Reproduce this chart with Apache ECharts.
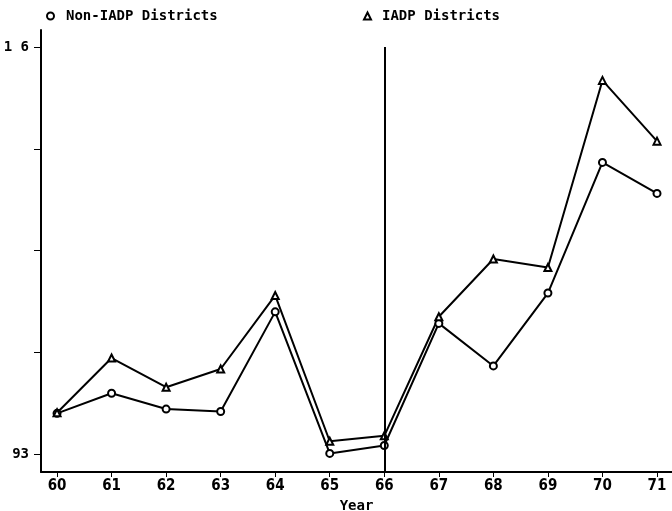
<!DOCTYPE html>
<html>
<head>
<meta charset="utf-8">
<script src="https://cdn.jsdelivr.net/npm/echarts@6/dist/echarts.min.js"></script>
<style>
  html, body { margin: 0; padding: 0; background: #fff; }
  #chart { width: 672px; height: 511px; }
</style>
</head>
<body>
<div id="chart"></div>
<script>
// data
let years = [60, 61, 62, 63, 64, 65, 66, 67, 68, 69, 70, 71];
let nonIadp = [0.997, 1.030, 1.004, 1.000, 1.164, 0.931, 0.944, 1.145, 1.075, 1.195, 1.410, 1.359];
let iadp = [0.998, 1.088, 1.040, 1.070, 1.191, 0.951, 0.960, 1.156, 1.251, 1.237, 1.545, 1.445];
let yTicks = [0.93, 1.0975, 1.265, 1.4325, 1.6];
let yLabelValues = [0.93, 1.6];
let yLabelTexts = ['93', '1 6'];
let breakYear = 66;

let font = 'DejaVu Sans Mono';
let narrow = '"Liberation Sans Narrow", "DejaVu Sans Condensed", sans-serif';
let yMin = 0.9004, yMax = 1.628;

function pairs(vals) {
    return years.map(function (y, i) { return [y, vals[i]]; });
}

let chart = echarts.init(document.getElementById('chart'));
let option = {
    animation: false,
    backgroundColor: '#fff',
    legend: [{
        left: 41, top: 4,
        data: ['Non-IADP Districts'],
        icon: 'emptyCircle',
        itemWidth: 7, itemHeight: 7,
        textStyle: { fontFamily: font, fontWeight: 'bold', fontSize: 14, color: '#000', padding: [0, 0, 0, 7] }
    }, {
        left: 358, top: 4,
        data: ['IADP Districts'],
        icon: 'emptyTriangle',
        itemWidth: 7, itemHeight: 7,
        textStyle: { fontFamily: font, fontWeight: 'bold', fontSize: 14, color: '#000', padding: [0, 0, 0, 6] }
    }],
    grid: { left: 41, right: 0, top: 30, bottom: 39, outerBoundsMode: 'none' },
    xAxis: {
        type: 'value',
        min: 59.706, max: 71.275,
        name: 'Year',
        nameLocation: 'middle',
        nameGap: 24,
        nameTextStyle: { fontFamily: font, fontWeight: 'bold', fontSize: 14, color: '#000' },
        axisLine: { lineStyle: { color: '#000', width: 2 } },
        axisTick: { length: 5, customValues: years, lineStyle: { color: '#000' } },
        axisLabel: {
            customValues: years, margin: 7,
            fontFamily: narrow, fontWeight: 'bold', fontSize: 15, color: '#000'
        },
        splitLine: { show: false }
    },
    yAxis: {
        type: 'value',
        min: yMin, max: yMax,
        axisLine: { show: true, lineStyle: { color: '#000', width: 2 } },
        axisTick: { show: true, length: 7, customValues: yTicks, lineStyle: { color: '#000' } },
        axisLabel: {
            customValues: yLabelValues, margin: 12,
            fontFamily: font, fontWeight: 'bold', fontSize: 14, color: '#000',
            formatter: function (v) {
                for (let i = 0; i < yLabelValues.length; i++) {
                    if (Math.abs(v - yLabelValues[i]) < 1e-6) return yLabelTexts[i];
                }
                return '';
            }
        },
        splitLine: { show: false }
    },
    series: [{
        name: 'Non-IADP Districts',
        type: 'line',
        data: pairs(nonIadp),
        symbol: 'emptyCircle',
        symbolSize: 7,
        lineStyle: { color: '#000', width: 2 },
        itemStyle: { color: '#000', borderWidth: 1.5 },
        markLine: {
            silent: true,
            symbol: 'none',
            label: { show: false },
            lineStyle: { color: '#000', width: 2, type: 'solid' },
            data: [[{ coord: [breakYear, 1.6] }, { coord: [breakYear, yMin] }]]
        }
    }, {
        name: 'IADP Districts',
        type: 'line',
        data: pairs(iadp),
        symbol: 'emptyTriangle',
        symbolSize: 7,
        lineStyle: { color: '#000', width: 2 },
        itemStyle: { color: '#000', borderWidth: 1.5 }
    }]
};
chart.setOption(option);
</script>
</body>
</html>
